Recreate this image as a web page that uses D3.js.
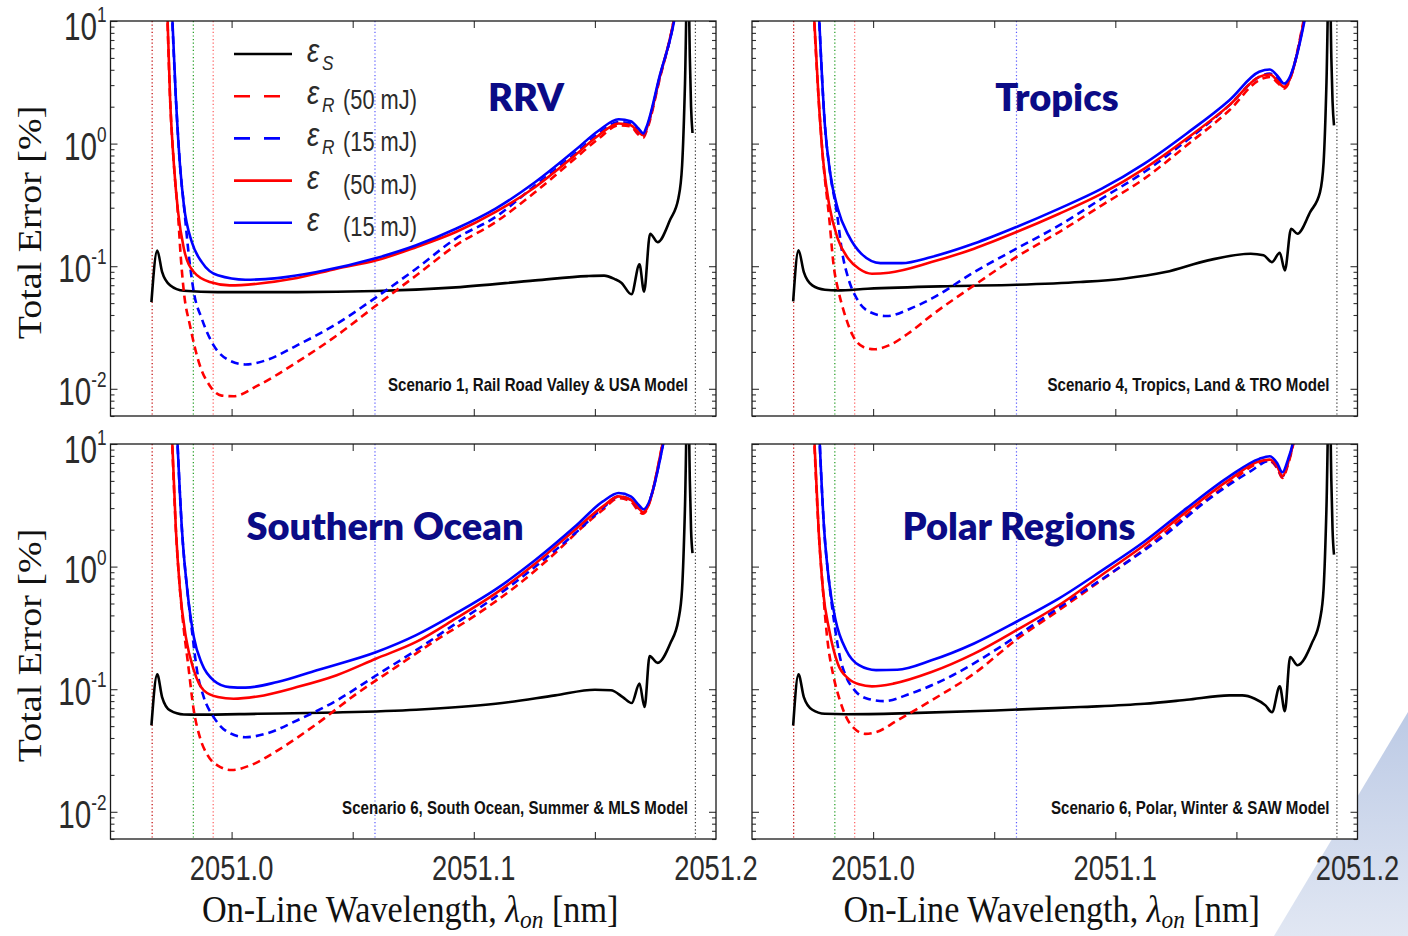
<!DOCTYPE html>
<html>
<head>
<meta charset="utf-8">
<script src="https://cdn.jsdelivr.net/npm/d3@7"></script>
<style>
  html, body { margin: 0; padding: 0; background: #ffffff; }
  svg { display: block; }
</style>
</head>
<body>
<svg id="chart" width="1408" height="936"></svg>
<script>
// ---------------------------------------------------------------
// Axis settings
// ---------------------------------------------------------------
const xDomain = [2050.95, 2051.2];
const yDomain = [0.006, 10];
const xTickValues = [2051.0, 2051.05, 2051.1, 2051.15];
const xTickLabels = [2051.0, 2051.1, 2051.2];
const yTickValues = [0.01, 0.1, 1, 10];
const yTickExponents = ["-2", "-1", "0", "1"];

// Reference wavelengths marked with dotted vertical lines [nm]
const markerWavelengths = [2050.9672, 2050.9842, 2050.9924, 2051.0592, 2051.1915];

// Legend text
const legendSubscripts = ["S", "R", "R", "", ""];
const legendNotes = ["", "(50 mJ)", "(15 mJ)", "(50 mJ)", "(15 mJ)"];

// ---------------------------------------------------------------
// Scenario 1: Rail Road Valley (wavelength [nm], error [%])
// ---------------------------------------------------------------
const rrvS = [
  [2050.9669, 0.051], [2050.9693, 0.134], [2050.9713, 0.090], [2050.9746, 0.070],
  [2050.9803, 0.063], [2050.9943, 0.0615], [2051.0270, 0.0615], [2051.0598, 0.0627],
  [2051.0926, 0.0672], [2051.1254, 0.0766], [2051.1468, 0.083], [2051.1538, 0.0838],
  [2051.1582, 0.0785], [2051.1609, 0.0734], [2051.1651, 0.059], [2051.1684, 0.1035],
  [2051.1703, 0.062], [2051.1728, 0.184], [2051.1759, 0.157], [2051.1811, 0.24],
  [2051.1845, 0.36], [2051.1860, 0.66], [2051.1872, 3.1], [2051.1884, 40],
  [2051.1892, 5], [2051.1897, 2.0], [2051.1903, 1.22]
];
const rrvR50 = [
  [2050.9731, 20], [2050.9746, 2.33], [2050.9762, 0.665], [2050.9779, 0.26],
  [2050.9790, 0.12], [2050.9803, 0.0615], [2050.9828, 0.033], [2050.9869, 0.0155],
  [2050.9910, 0.0106], [2050.9959, 0.0088], [2051.0008, 0.0087], [2051.0107, 0.0106],
  [2051.0270, 0.0165], [2051.0434, 0.0272], [2051.0598, 0.048], [2051.0762, 0.084],
  [2051.0926, 0.148], [2051.1090, 0.229], [2051.1254, 0.403], [2051.1418, 0.755],
  [2051.1516, 1.10], [2051.1598, 1.41], [2051.1648, 1.38], [2051.1680, 1.18],
  [2051.1700, 1.12], [2051.1712, 1.25], [2051.1768, 3.4], [2051.1825, 10], [2051.1835, 13]
];
const rrvR15 = [
  [2050.9749, 20], [2050.9770, 2.33], [2050.9787, 0.665], [2050.9803, 0.314],
  [2050.9825, 0.115], [2050.9844, 0.0615], [2050.9877, 0.0373], [2050.9926, 0.0226],
  [2050.9992, 0.0170], [2051.0057, 0.0158], [2051.0139, 0.0170], [2051.0270, 0.0226],
  [2051.0434, 0.0339], [2051.0598, 0.056], [2051.0762, 0.0954], [2051.0926, 0.168],
  [2051.1090, 0.252], [2051.1254, 0.457], [2051.1418, 0.829], [2051.1516, 1.21],
  [2051.1598, 1.50], [2051.1648, 1.46], [2051.1680, 1.24], [2051.1700, 1.16],
  [2051.1712, 1.30], [2051.1768, 3.5], [2051.1826, 10], [2051.1836, 13]
];
const rrvE50 = [
  [2050.9731, 20], [2050.9746, 2.33], [2050.9762, 0.665], [2050.9779, 0.277],
  [2050.9803, 0.139], [2050.9844, 0.0896], [2050.9910, 0.0743], [2050.9992, 0.0698],
  [2051.0107, 0.072], [2051.0270, 0.080], [2051.0434, 0.0954], [2051.0598, 0.1116],
  [2051.0762, 0.143], [2051.0926, 0.190], [2051.1090, 0.277], [2051.1254, 0.443],
  [2051.1418, 0.803], [2051.1516, 1.17], [2051.1598, 1.46], [2051.1648, 1.41],
  [2051.1680, 1.245], [2051.1700, 1.17], [2051.1712, 1.3], [2051.1768, 3.5],
  [2051.1825, 10], [2051.1835, 13]
];
const rrvE15 = [
  [2050.9749, 20], [2050.9770, 2.33], [2050.9787, 0.665], [2050.9803, 0.314],
  [2050.9836, 0.157], [2050.9877, 0.108], [2050.9943, 0.0842], [2051.0057, 0.0776],
  [2051.0189, 0.080], [2051.0352, 0.0896], [2051.0598, 0.1166], [2051.0762, 0.148],
  [2051.0926, 0.202], [2051.1090, 0.295], [2051.1254, 0.486], [2051.1418, 0.882],
  [2051.1516, 1.28], [2051.1598, 1.58], [2051.1648, 1.52], [2051.1680, 1.33],
  [2051.1700, 1.21], [2051.1712, 1.35], [2051.1768, 3.6], [2051.1827, 10], [2051.1837, 13]
];

// ---------------------------------------------------------------
// Scenario 4: Tropics
// ---------------------------------------------------------------
const tropS = [
  [2050.9670, 0.0516], [2050.9692, 0.1346], [2050.9714, 0.0896], [2050.9749, 0.0698],
  [2050.9801, 0.0643], [2050.9854, 0.0635], [2050.9977, 0.0655], [2051.0329, 0.0689],
  [2051.0592, 0.0706], [2051.0856, 0.0743], [2051.1032, 0.0791], [2051.1207, 0.0896],
  [2051.1383, 0.1116], [2051.1559, 0.1265], [2051.1612, 0.1226], [2051.1647, 0.108],
  [2051.1679, 0.1288], [2051.1700, 0.0925], [2051.1726, 0.202], [2051.1752, 0.184],
  [2051.1805, 0.277], [2051.1845, 0.40], [2051.1860, 0.70], [2051.1872, 3.2],
  [2051.1884, 40], [2051.1892, 5], [2051.1897, 2.2], [2051.1903, 1.41]
];
const tropR50 = [
  [2050.9749, 20], [2050.9775, 2.33], [2050.9793, 0.755], [2050.9819, 0.244],
  [2050.9837, 0.1016], [2050.9858, 0.0615], [2050.9880, 0.0423], [2050.9916, 0.0272],
  [2050.9960, 0.0219], [2051.0004, 0.0210], [2051.0065, 0.0226], [2051.0153, 0.0290],
  [2051.0241, 0.0397], [2051.0417, 0.0698], [2051.0592, 0.119], [2051.0768, 0.190],
  [2051.0944, 0.314], [2051.1120, 0.518], [2051.1295, 0.969], [2051.1471, 1.87],
  [2051.1594, 3.29], [2051.1638, 3.50], [2051.1673, 3.09], [2051.1696, 2.81],
  [2051.1777, 10], [2051.1788, 13]
];
const tropR15 = [
  [2050.9771, 20], [2050.9801, 1.41], [2050.9822, 0.587], [2050.9850, 0.277],
  [2050.9872, 0.1305], [2050.9898, 0.0791], [2050.9933, 0.0543], [2050.9986, 0.0423],
  [2051.0056, 0.0392], [2051.0153, 0.045], [2051.0241, 0.0543], [2051.0417, 0.0896],
  [2051.0592, 0.139], [2051.0768, 0.215], [2051.0944, 0.356], [2051.1120, 0.587],
  [2051.1295, 1.06], [2051.1471, 2.06], [2051.1594, 3.50], [2051.1638, 3.72],
  [2051.1673, 3.30], [2051.1696, 2.95], [2051.1779, 10], [2051.1790, 13]
];
const tropE50 = [
  [2050.9749, 20], [2050.9775, 2.33], [2050.9793, 0.755], [2050.9819, 0.314],
  [2050.9854, 0.168], [2050.9898, 0.115], [2050.9942, 0.0954], [2050.9995, 0.0869],
  [2051.0065, 0.0885], [2051.0241, 0.108], [2051.0417, 0.139], [2051.0592, 0.190],
  [2051.0768, 0.268], [2051.0944, 0.391], [2051.1120, 0.625], [2051.1295, 1.10],
  [2051.1471, 2.06], [2051.1594, 3.50], [2051.1638, 3.66], [2051.1673, 3.19],
  [2051.1696, 2.90], [2051.1779, 10], [2051.1790, 13]
];
const tropE15 = [
  [2050.9771, 20], [2050.9801, 1.41], [2050.9822, 0.587], [2050.9854, 0.295],
  [2050.9898, 0.179], [2050.9951, 0.1265], [2051.0030, 0.106], [2051.0118, 0.106],
  [2051.0241, 0.119], [2051.0417, 0.153], [2051.0592, 0.209], [2051.0768, 0.295],
  [2051.0944, 0.429], [2051.1120, 0.687], [2051.1295, 1.21], [2051.1471, 2.26],
  [2051.1594, 3.85], [2051.1638, 4.02], [2051.1673, 3.50], [2051.1696, 3.09],
  [2051.1781, 10], [2051.1792, 13]
];

// ---------------------------------------------------------------
// Scenario 6: Southern Ocean
// ---------------------------------------------------------------
const soS = [
  [2050.9669, 0.0506], [2050.9693, 0.132], [2050.9713, 0.0863], [2050.9746, 0.0671],
  [2050.9803, 0.0622], [2050.9861, 0.062], [2051.0107, 0.063], [2051.0434, 0.0646],
  [2051.0762, 0.068], [2051.1090, 0.076], [2051.1336, 0.089], [2051.1500, 0.099],
  [2051.1566, 0.098], [2051.1615, 0.0863], [2051.1652, 0.0771], [2051.1684, 0.111],
  [2051.1705, 0.0715], [2051.1726, 0.186], [2051.1759, 0.164], [2051.1811, 0.236],
  [2051.1845, 0.37], [2051.1860, 0.66], [2051.1872, 3.1], [2051.1884, 40],
  [2051.1892, 5], [2051.1897, 2.0], [2051.1903, 1.29]
];
const soR50 = [
  [2050.9749, 20], [2050.9770, 2.0], [2050.9787, 0.644], [2050.9803, 0.303],
  [2050.9820, 0.162], [2050.9844, 0.067], [2050.9869, 0.0406], [2050.9902, 0.0287],
  [2050.9943, 0.0238], [2051.0000, 0.0219], [2051.0074, 0.0238], [2051.0189, 0.0316],
  [2051.0352, 0.0522], [2051.0516, 0.0918], [2051.0680, 0.152], [2051.0844, 0.251],
  [2051.1008, 0.402], [2051.1172, 0.686], [2051.1336, 1.29], [2051.1451, 2.12],
  [2051.1533, 2.91], [2051.1598, 3.62], [2051.1648, 3.40], [2051.1680, 2.85],
  [2051.1698, 2.70], [2051.1779, 10], [2051.1790, 13]
];
const soR15 = [
  [2050.9770, 20], [2050.9795, 2.0], [2050.9820, 0.568], [2050.9836, 0.303],
  [2050.9857, 0.143], [2050.9885, 0.0863], [2050.9926, 0.0592], [2050.9975, 0.046],
  [2051.0057, 0.0406], [2051.0139, 0.0432], [2051.0270, 0.0556], [2051.0434, 0.081],
  [2051.0598, 0.130], [2051.0762, 0.208], [2051.0926, 0.344], [2051.1090, 0.568],
  [2051.1254, 1.0], [2051.1418, 1.87], [2051.1533, 3.0], [2051.1598, 3.74],
  [2051.1648, 3.51], [2051.1680, 3.0], [2051.1698, 2.85], [2051.1781, 10], [2051.1792, 13]
];
const soE50 = [
  [2050.9749, 20], [2050.9770, 2.0], [2050.9787, 0.644], [2050.9811, 0.267],
  [2050.9844, 0.143], [2050.9885, 0.0978], [2050.9943, 0.0863], [2051.0008, 0.0836],
  [2051.0107, 0.0873], [2051.0270, 0.104], [2051.0434, 0.130], [2051.0598, 0.178],
  [2051.0762, 0.243], [2051.0926, 0.378], [2051.1090, 0.605], [2051.1254, 1.06],
  [2051.1418, 2.0], [2051.1533, 3.10], [2051.1598, 3.74], [2051.1648, 3.51],
  [2051.1680, 3.0], [2051.1700, 2.77], [2051.1779, 10], [2051.1790, 13]
];
const soE15 = [
  [2050.9770, 20], [2050.9795, 2.0], [2050.9820, 0.568], [2050.9844, 0.267],
  [2050.9877, 0.162], [2050.9926, 0.118], [2050.9992, 0.104], [2051.0057, 0.103],
  [2051.0189, 0.1145], [2051.0352, 0.143], [2051.0598, 0.201], [2051.0762, 0.276],
  [2051.0926, 0.415], [2051.1090, 0.652], [2051.1254, 1.13], [2051.1418, 2.12],
  [2051.1533, 3.40], [2051.1598, 3.98], [2051.1648, 3.74], [2051.1680, 3.20],
  [2051.1700, 2.94], [2051.1782, 10], [2051.1793, 13]
];

// ---------------------------------------------------------------
// Scenario 6: Polar regions
// ---------------------------------------------------------------
const polS = [
  [2050.9670, 0.0506], [2050.9692, 0.132], [2050.9714, 0.0863], [2050.9749, 0.068],
  [2050.9801, 0.063], [2050.9889, 0.0625], [2051.0153, 0.0638], [2051.0504, 0.0671],
  [2051.0856, 0.0715], [2051.1120, 0.076], [2051.1295, 0.082], [2051.1471, 0.089],
  [2051.1524, 0.089], [2051.1576, 0.0836], [2051.1620, 0.0738], [2051.1647, 0.065],
  [2051.1679, 0.1055], [2051.1700, 0.0663], [2051.1722, 0.183], [2051.1752, 0.157],
  [2051.1811, 0.236], [2051.1845, 0.37], [2051.1860, 0.66], [2051.1872, 3.1],
  [2051.1884, 40], [2051.1892, 5], [2051.1897, 2.0], [2051.1903, 1.25]
];
const polR50 = [
  [2050.9751, 20], [2050.9775, 2.0], [2050.9793, 0.644], [2050.9810, 0.267],
  [2050.9837, 0.126], [2050.9863, 0.081], [2050.9889, 0.0592], [2050.9924, 0.0475],
  [2050.9968, 0.0432], [2051.0012, 0.0446], [2051.0100, 0.0556], [2051.0241, 0.081],
  [2051.0417, 0.134], [2051.0592, 0.254], [2051.0768, 0.442], [2051.0944, 0.778],
  [2051.1120, 1.39], [2051.1295, 2.65], [2051.1471, 4.81], [2051.1594, 7.01],
  [2051.1638, 7.23], [2051.1668, 6.36], [2051.1690, 5.28], [2051.1713, 6.79],
  [2051.1735, 10], [2051.1746, 13]
];
const polR15 = [
  [2050.9773, 20], [2050.9798, 2.0], [2050.9819, 0.731], [2050.9840, 0.344],
  [2050.9863, 0.183], [2050.9889, 0.126], [2050.9924, 0.0978], [2050.9977, 0.0836],
  [2051.0047, 0.080], [2051.0153, 0.0918], [2051.0329, 0.130], [2051.0504, 0.208],
  [2051.0680, 0.355], [2051.0856, 0.605], [2051.1032, 1.03], [2051.1207, 1.82],
  [2051.1383, 3.51], [2051.1559, 6.0], [2051.1638, 7.33], [2051.1668, 6.5],
  [2051.1690, 5.45], [2051.1713, 7.01], [2051.1733, 10], [2051.1744, 13]
];
const polE50 = [
  [2050.9751, 20], [2050.9775, 2.0], [2050.9793, 0.644], [2050.9819, 0.303],
  [2050.9854, 0.162], [2050.9898, 0.122], [2050.9942, 0.1096], [2050.9995, 0.1055],
  [2051.0083, 0.111], [2051.0241, 0.138], [2051.0417, 0.195], [2051.0592, 0.303],
  [2051.0768, 0.486], [2051.0944, 0.855], [2051.1120, 1.50], [2051.1295, 2.82],
  [2051.1471, 5.12], [2051.1594, 7.23], [2051.1638, 7.46], [2051.1668, 6.59],
  [2051.1690, 5.45], [2051.1713, 7.01], [2051.1734, 10], [2051.1745, 13]
];
const polE15 = [
  [2050.9773, 20], [2050.9798, 2.0], [2050.9819, 0.731], [2050.9845, 0.366],
  [2050.9889, 0.208], [2050.9942, 0.157], [2051.0012, 0.143], [2051.0100, 0.144],
  [2051.0241, 0.172], [2051.0417, 0.236], [2051.0592, 0.355], [2051.0768, 0.551],
  [2051.0944, 0.927], [2051.1120, 1.60], [2051.1295, 3.0], [2051.1471, 5.45],
  [2051.1594, 7.56], [2051.1638, 7.95], [2051.1668, 7.01], [2051.1690, 5.88],
  [2051.1713, 7.46], [2051.1732, 10], [2051.1743, 13]
];

// Panel titles and scenario notes
const panelTitles = ["RRV", "Tropics", "Southern Ocean", "Polar Regions"];
const scenarioNotes = [
  "Scenario 1, Rail Road Valley & USA Model",
  "Scenario 4, Tropics, Land & TRO Model",
  "Scenario 6, South Ocean, Summer & MLS Model",
  "Scenario 6, Polar, Winter & SAW Model"
];

// ---------------------------------------------------------------
// Drawing
// ---------------------------------------------------------------
const svg = d3.select("#chart");
const SANS = "'Liberation Sans', Arial, sans-serif";
const SERIF = "'Liberation Serif', 'Times New Roman', serif";
const TITLE_FONT = "Lato, 'Open Sans', sans-serif";
const TEXT_DARK = "#2b2b2b";
const SQUEEZE = 0.78;

const PW = 605.5, PH = 395;

const panelSeries = [
  { S: rrvS, R50: rrvR50, R15: rrvR15, E50: rrvE50, E15: rrvE15 },
  { S: tropS, R50: tropR50, R15: tropR15, E50: tropE50, E15: tropE15 },
  { S: soS, R50: soR50, R15: soR15, E50: soE50, E15: soE15 },
  { S: polS, R50: polR50, R15: polR15, E50: polE50, E15: polE15 }
];

const layout = [
  { x: 110.5, y: 21,  col: 0, row: 0, titleX: 526,  titleY: 111 },
  { x: 752,   y: 21,  col: 1, row: 0, titleX: 1057, titleY: 111 },
  { x: 110.5, y: 444, col: 0, row: 1, titleX: 385,  titleY: 540 },
  { x: 752,   y: 444, col: 1, row: 1, titleX: 1019, titleY: 540 }
];

const seriesStyles = [
  { key: "S",   color: "#000000", dash: null },
  { key: "R50", color: "#ff0000", dash: "8,5" },
  { key: "R15", color: "#0000ff", dash: "8,5" },
  { key: "E50", color: "#ff0000", dash: null },
  { key: "E15", color: "#0000ff", dash: null }
];
const markerColors = ["#c00000", "#1a9a1a", "#ff5a5a", "#5a5aff", "#333333"];

// Slide decoration in the lower right corner
const defs = svg.append("defs");
const grad = defs.append("linearGradient").attr("id", "cornerFill")
  .attr("x1", 0).attr("y1", 0).attr("x2", 0).attr("y2", 1);
grad.append("stop").attr("offset", "0%").attr("stop-color", "#bccae5");
grad.append("stop").attr("offset", "100%").attr("stop-color", "#e1e7f3");
svg.append("polygon")
  .attr("points", "1408,712 1408,936 1274,936")
  .attr("fill", "url(#cornerFill)");

const x = d3.scaleLinear().domain(xDomain).range([0, PW]);
const y = d3.scaleLog().domain(yDomain).range([PH, 0]);

const line = d3.line()
  .x(d => x(d[0]))
  .y(d => y(d[1]))
  .curve(d3.curveMonotoneX);

// minor ticks of the logarithmic axis
const minorTicks = [];
for (let k = -3; k <= 0; k++) {
  for (let m = 2; m <= 9; m++) {
    const v = m * Math.pow(10, k);
    if (v >= yDomain[0] && v <= yDomain[1]) minorTicks.push(v);
  }
}

layout.forEach((p, i) => {
  const g = svg.append("g").attr("transform", `translate(${p.x},${p.y})`);

  g.append("rect").attr("width", PW).attr("height", PH).attr("fill", "#ffffff");

  defs.append("clipPath").attr("id", `clip${i}`)
    .append("rect").attr("width", PW).attr("height", PH);

  const plot = g.append("g").attr("clip-path", `url(#clip${i})`);

  // dotted reference wavelengths
  plot.selectAll("line.marker")
    .data(markerWavelengths)
    .join("line")
    .attr("class", "marker")
    .attr("x1", d => x(d)).attr("x2", d => x(d))
    .attr("y1", 0).attr("y2", PH)
    .attr("stroke", (d, j) => markerColors[j])
    .attr("stroke-width", 1.2)
    .attr("stroke-dasharray", "1.2,2.4");

  // error curves
  seriesStyles.forEach(s => {
    plot.append("path")
      .datum(panelSeries[i][s.key])
      .attr("d", line)
      .attr("fill", "none")
      .attr("stroke", s.color)
      .attr("stroke-width", 2.6)
      .attr("stroke-linejoin", "round")
      .attr("stroke-dasharray", s.dash);
  });

  // axes with inward ticks on all four sides
  const axStyle = sel => {
    sel.select(".domain").remove();
    sel.selectAll(".tick line").attr("stroke", "#333").attr("stroke-width", 1.1);
    sel.selectAll(".tick text").remove();
  };
  g.append("g").attr("transform", `translate(0,${PH})`)
    .call(d3.axisBottom(x).tickValues(xTickValues).tickSize(-7)).call(axStyle);
  g.append("g")
    .call(d3.axisTop(x).tickValues(xTickValues).tickSize(-7)).call(axStyle);
  g.append("g")
    .call(d3.axisLeft(y).tickValues(yTickValues).tickSize(-7)).call(axStyle);
  g.append("g")
    .call(d3.axisLeft(y).tickValues(minorTicks).tickSize(-4)).call(axStyle);
  g.append("g").attr("transform", `translate(${PW},0)`)
    .call(d3.axisRight(y).tickValues(yTickValues).tickSize(-7)).call(axStyle);
  g.append("g").attr("transform", `translate(${PW},0)`)
    .call(d3.axisRight(y).tickValues(minorTicks).tickSize(-4)).call(axStyle);

  // frame
  g.append("rect").attr("width", PW).attr("height", PH)
    .attr("fill", "none").attr("stroke", "#1a1a1a").attr("stroke-width", 1.3);

  // scenario note
  g.append("text")
    .attr("transform", `translate(${PW - 28},${PH - 25}) scale(0.84,1)`)
    .attr("text-anchor", "end")
    .attr("font-family", SANS).attr("font-weight", "bold")
    .attr("font-size", 18).attr("fill", "#111")
    .text(scenarioNotes[i]);

  // y tick labels (left column)
  if (p.col === 0) {
    yTickValues.forEach((v, j) => {
      const off = v === yDomain[1] ? 19 : 16;
      const t = g.append("text")
        .attr("transform", `translate(-4,${y(v) + off}) scale(${SQUEEZE},1)`)
        .attr("text-anchor", "end")
        .attr("font-family", SANS).attr("font-size", 38).attr("fill", TEXT_DARK);
      t.append("tspan").text("10");
      t.append("tspan").attr("font-size", 22).attr("dy", -18).text(yTickExponents[j]);
    });
  }

  // x tick labels (bottom row)
  if (p.row === 1) {
    xTickLabels.forEach(v => {
      g.append("text")
        .attr("transform", `translate(${x(v)},${PH + 41}) scale(${SQUEEZE},1)`)
        .attr("text-anchor", "middle")
        .attr("font-family", SANS).attr("font-size", 35).attr("fill", TEXT_DARK)
        .text(d3.format(".1f")(v));
    });
  }

  // panel title
  svg.append("text")
    .attr("x", p.titleX).attr("y", p.titleY)
    .attr("text-anchor", "middle")
    .attr("font-family", TITLE_FONT).attr("font-weight", 800)
    .attr("font-size", 38).attr("fill", "#0b0b86")
    .text(panelTitles[i]);
});

// y axis titles
[0, 1].forEach(r => {
  const cy = layout[r * 2].y + PH / 2 + 4;
  svg.append("text")
    .attr("transform", `translate(41,${cy}) rotate(-90) scale(1,0.88)`)
    .attr("text-anchor", "middle")
    .attr("font-family", SERIF).attr("font-size", 38).attr("fill", "#111")
    .text("Total Error [%]");
});

// x axis titles
[0, 1].forEach(c => {
  const cx = layout[2 + c].x + PW / 2 - 3;
  const t = svg.append("text")
    .attr("transform", `translate(${cx},922) scale(0.9,1)`)
    .attr("text-anchor", "middle")
    .attr("font-family", SERIF).attr("font-size", 38).attr("fill", "#111");
  t.append("tspan").text("On-Line Wavelength, ");
  t.append("tspan").attr("font-style", "italic").text("λ");
  t.append("tspan").attr("font-style", "italic").attr("font-size", 26).attr("dy", 6).text("on");
  t.append("tspan").attr("dy", -6).text(" [nm]");
});

// legend (first panel)
const lg = svg.append("g");
seriesStyles.forEach((s, j) => {
  const ly = 54 + j * 42.2;
  lg.append("line")
    .attr("x1", 234).attr("x2", 292).attr("y1", ly).attr("y2", ly)
    .attr("stroke", s.color).attr("stroke-width", 2.6)
    .attr("stroke-dasharray", s.dash ? "16,14" : null);
  lg.append("text")
    .attr("transform", `translate(307,${ly + 8}) scale(0.82,1)`)
    .attr("font-family", SANS).attr("font-style", "italic")
    .attr("font-size", 34).attr("fill", TEXT_DARK)
    .text("ε");
  if (legendSubscripts[j]) {
    lg.append("text")
      .attr("transform", `translate(322,${ly + 16}) scale(0.82,1)`)
      .attr("font-family", SANS).attr("font-style", "italic")
      .attr("font-size", 21).attr("fill", TEXT_DARK)
      .text(legendSubscripts[j]);
  }
  if (legendNotes[j]) {
    lg.append("text")
      .attr("transform", `translate(343,${ly + 13}) scale(${SQUEEZE},1)`)
      .attr("font-family", SANS).attr("font-size", 28).attr("fill", TEXT_DARK)
      .text(legendNotes[j]);
  }
});
</script>
</body>
</html>
